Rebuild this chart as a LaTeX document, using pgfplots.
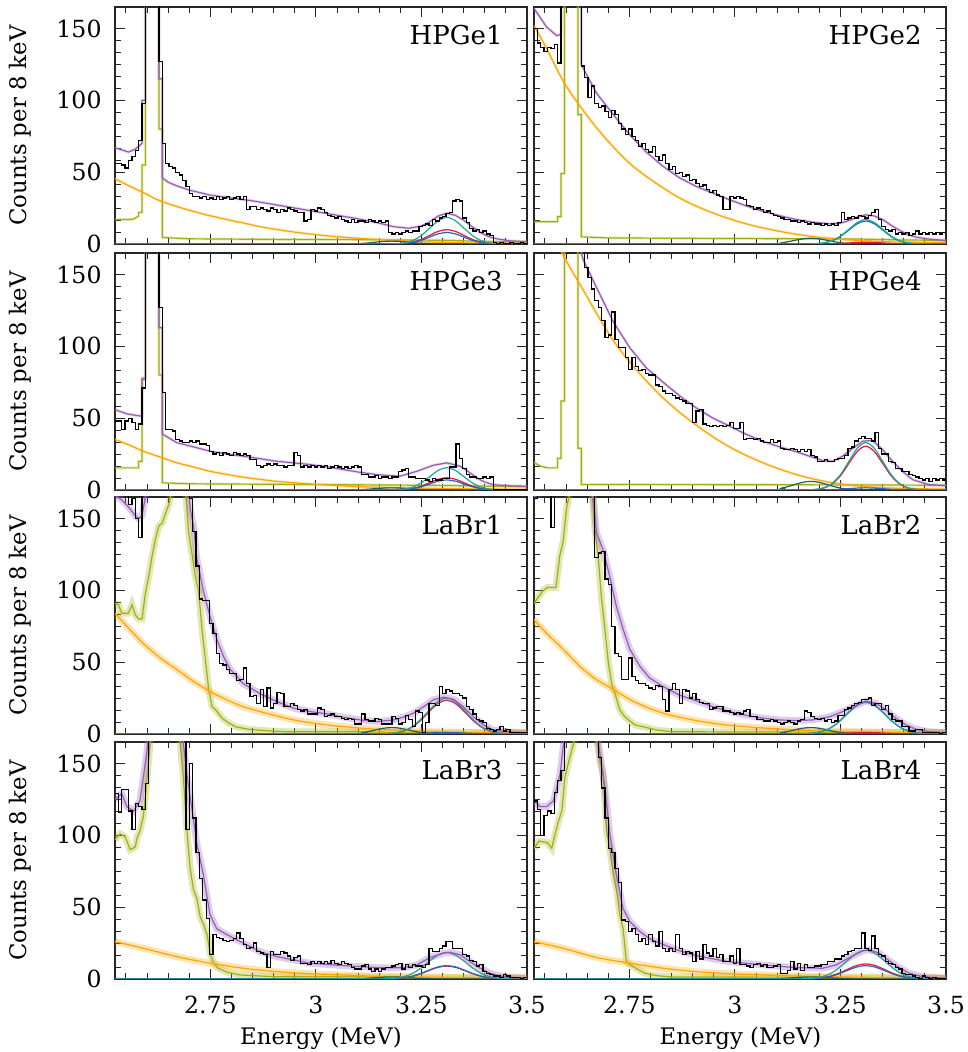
\documentclass[border=0pt]{standalone}
\usepackage{fontspec}
\setmainfont{DejaVu Serif}
\usepackage{pgfplots}
\usepackage{pgfplotstable}
\pgfplotsset{compat=1.18}
\definecolor{cPur}{RGB}{150,92,182}
\definecolor{cOrg}{RGB}{255,165,0}
\definecolor{cOlv}{RGB}{160,175,12}
\definecolor{cTeal}{RGB}{22,170,150}
\definecolor{cRed}{RGB}{235,20,50}
\definecolor{cBlue}{RGB}{35,100,200}
\definecolor{cDk}{RGB}{25,95,105}

\pgfplotstableread{
E h1 h2 h3 h4 l1 l2 l3 l4
2.524 56 150 48 180 170 164 129 124
2.532 56 140 48 178 168 166 116 118
2.540 55 137 42 175 166 166 132 100
2.548 53 134 48 176 175 170 132 114
2.556 58 137 50 172 160 170 117 117
2.564 61 136 47 174 164 144 104 115
2.572 65 139 42 171 150 170 122 130
2.580 72 126 46 175 137 200 120 138
2.588 98 200 71 190 170 230 118 145
2.596 250 500 300 500 200 250 136 200
2.604 600 900 700 900 220 260 180 230
2.612 900 1200 900 1200 240 260 220 250
2.620 400 700 400 600 250 250 250 260
2.628 127 300 127 300 250 240 260 260
2.636 70 124 68 200 250 230 260 250
2.644 56 116 42 155 240 210 250 240
2.652 54 102 42 148 230 190 240 220
2.660 53 110 41 140 220 175 230 200
2.668 50 98 35 132 210 123 210 180
2.676 48 95 34 127 200 126 200 154
2.684 44 96 33 118 190 127 180 133
2.692 40 92 33 106 180 108 104 112
2.700 35 88 34 108 164 104 150 91
2.708 33 93 33 124 141 75 112 88
2.716 33 90 34 105 117 56 88 77
2.724 32 84 32 99 94 54 70 67
2.732 33 80 32 99 93 38 55 41
2.740 31 76 31 92 93 38 42 40
2.748 32 80 27 84 77 53 17 33
2.756 31 75 25 92 70 40 31 35
2.764 33 72 26 86 56 37 29 31
2.772 31 68 24 83 49 35 28 26
2.780 32 70 26 84 48 35 27 28
2.788 33 66 25 81 45 34 26 24
2.796 31 64 24 80 42 32 27 31
2.804 32 68 26 80 42 31 28 26
2.812 33 61 25 73 37 34 32 23
2.820 31 58 24 72 38 33 28 33
2.828 33 62 25 69 46 24 24 21
2.836 24 56 24 67 35 16 21 19
2.844 26 52 21 67 26 31 22 21
2.852 26 54 21 66 27 35 25 19
2.860 24 49 17 64 21 31 19 31
2.868 25 50 16 63 31 21 18 21
2.876 24 47 17 62 19 31 17 17
2.884 23 48 18 60 32 30 8 19
2.892 25 44 17 60 18 25 19 18
2.900 24 45 18 47 21 28 17 12
2.908 22 42 17 55 29 24 17 19
2.916 24 40 17 56 28 22 19 14
2.924 23 41 16 46 19 21 18 24
2.932 25 38 17 45 19 21 16 18
2.940 24 36 17 44 21 17 13 16
2.948 23 37 26 45 20 18 15 21
2.956 22 34 24 44 17 19 16 15
2.964 22 33 16 45 16 19 11 17
2.972 16 24 17 44 17 16 11 12
2.980 17 24 16 45 14 16 10 12
2.988 24 33 17 47 14 15 12 16
2.996 23 32 16 43 14 14 11 11
3.004 25 33 17 43 18 15 12 21
3.012 24 32 16 47 17 14 11 10
3.020 22 31 17 35 12 16 12 10
3.028 20 27 15 36 13 17 11 9
3.036 19 26 16 36 14 12 13 8
3.044 18 24 17 35 12 12 11 10
3.052 19 25 16 36 12 10 10 11
3.060 17 24 15 34 11 10 12 9
3.068 16 22 16 33 10 9 11 10
3.076 15 23 15 33 11 9 10 8
3.084 17 21 16 35 10 10 8 8
3.092 15 20 17 33 7 9 7 9
3.100 16 19 16 34 7 8 7 10
3.108 16 18 11 29 14 7 9 4
3.116 15 17 11 28 10 8 10 4
3.124 17 17 9 28 9 9 7 6
3.132 16 16 9 29 9 8 5 12
3.140 15 16 10 28 11 7 7 7
3.148 16 15 8 27 10 9 5 11
3.156 15 16 9 28 7 10 7 6
3.164 16 15 9 27 7 16 8 10
3.172 8 14 8 28 7 15 8 8
3.180 7 15 9 24 12 12 9 8
3.188 8 14 9 23 11 11 10 9
3.196 7 14 13 20 7 10 11 9
3.204 8 13 14 20 8 11 7 10
3.212 9 14 15 21 13 9 10 10
3.220 8 13 9 20 10 10 8 12
3.228 9 14 9 20 5 8 10 12
3.236 9 13 8 21 16 9 9 14
3.244 12 15 8 22 15 13 9 14
3.252 13 22 8 22 1 13 8 16
3.260 14 17 7 24 8 17 10 17
3.268 13 18 6 29 21 18 21 19
3.276 17 19 8 30 21 20 19 20
3.284 16 18 7 34 20 21 19 21
3.292 18 20 7 36 33 22 21 21
3.300 19 19 8 37 28 24 23 32
3.308 21 18 8 36 31 24 26 21
3.316 22 20 16 36 30 25 26 20
3.324 30 22 16 34 28 20 21 30
3.332 31 24 32 40 28 21 21 21
3.340 30 17 22 29 27 21 21 17
3.348 18 12 15 25 25 17 17 16
3.356 15 10 11 25 19 20 16 12
3.364 11 9 9 20 17 14 13 11
3.372 9 10 9 19 14 10 12 10
3.380 10 7 8 15 10 9 9 8
3.388 8 8 8 15 9 9 10 7
3.396 9 7 9 13 8 5 5 4
3.404 7 8 8 13 4 5 4 3
3.412 6 6 9 11 3 2 3 3
3.420 1 7 0 10 2 2 2 2
3.428 0 9 0 9 3 3 2 1
3.436 1 7 0 8 5 3 1 0
3.444 0 8 0 7 2 1 3 2
3.452 0 7 0 8 3 1 2 1
3.460 1 8 0 6 1 1 1 0
3.468 0 7 0 8 1 1 1 1
3.476 0 8 0 7 1 1 1 0
3.484 1 7 0 8 1 0 0 0
3.492 0 8 0 7 1 1 1 0
3.500 0 8 0 7 1 1 1 0
}\datatab

% ---------- HPGe1 ----------
\pgfplotstableread[row sep=\\]{x y\\ 2.524 17\\2.564 17\\2.572 18\\2.580 19.5\\2.580 22\\2.588 22\\2.588 55\\2.596 55\\2.596 500\\2.628 500\\2.628 80\\2.636 80\\2.636 4.5\\2.70 3.6\\2.90 3.2\\3.10 3.0\\3.30 2.6\\3.40 1.8\\3.50 1.3\\}\oHa
\pgfplotstableread[row sep=\\]{x y\\ 2.524 45.5\\2.55 41.5\\2.575 38\\2.60 34.5\\2.623 31\\2.65 28\\2.694 24\\2.74 20.3\\2.789 17\\2.83 14.5\\2.868 12\\2.92 9.5\\2.97 7.5\\3.02 5.9\\3.065 4.7\\3.12 3.6\\3.168 2.8\\3.22 2\\3.262 1.4\\3.33 0.9\\3.40 0.6\\3.50 0.4\\}\rHa
\pgfplotstableread[row sep=\\]{x y\\ 2.524 67\\2.54 65.5\\2.556 64\\2.572 66\\2.580 68\\2.588 70\\2.588 100\\2.596 100\\2.596 500\\2.628 500\\2.628 115\\2.636 115\\2.636 46\\2.65 43\\2.67 40.5\\2.70 37.5\\2.75 34\\2.80 32\\2.85 30\\2.90 27.5\\2.95 25\\3.00 22.5\\3.05 20\\3.10 17.5\\3.15 14.5\\3.185 12\\3.22 11\\3.25 12.5\\3.27 15.5\\3.29 19.5\\3.31 21.4\\3.33 20\\3.35 16.5\\3.37 12\\3.39 8\\3.41 5\\3.43 3.5\\3.46 2.2\\3.50 1.6\\}\pHa
\pgfplotstableread[row sep=\\]{E T R B K\\ 2.524 0 0 0 0\\3.07 0 0 0 .05\\3.11 0 0 0 .43\\3.13 0 0 0 .92\\3.15 0 0 0 1.51\\3.17 .04 .02 .02 1.94\\3.19 .2 .11 .09 1.94\\3.21 .81 .44 .35 1.51\\3.23 2.5 1.35 1.08 .92\\3.25 6 3.25 2.6 .43\\3.27 11.2 6.07 4.86 .16\\3.29 16.3 8.82 7.06 .05\\3.31 18.5 10 8 .01\\3.33 16.3 8.82 7.06 0\\3.35 11.2 6.07 4.86 0\\3.37 6 3.25 2.6 0\\3.39 2.5 1.35 1.08 0\\3.41 .81 .44 .35 0\\3.43 .2 .11 .09 0\\3.45 .04 .02 .02 0\\3.47 0 0 0 0\\3.5 0 0 0 0\\}\sHa
% ---------- HPGe2 ----------
\pgfplotstableread[row sep=\\]{x y\\ 2.524 15.5\\2.580 15.5\\2.580 19\\2.588 19\\2.588 49\\2.596 49\\2.596 500\\2.628 500\\2.628 90\\2.636 90\\2.636 5\\2.70 4.2\\3.0 3.8\\3.3 3.4\\3.4 2.8\\3.5 2.5\\}\oHb
\pgfplotstableread[row sep=\\]{x y\\ 2.524 152\\2.554 136\\2.594 113\\2.633 96\\2.672 81\\2.712 67.5\\2.751 56\\2.790 47\\2.830 39\\2.869 32\\2.909 26.3\\2.948 21.6\\2.987 17.5\\3.027 14\\3.066 11.2\\3.106 8.8\\3.145 6.8\\3.184 5.2\\3.224 3.9\\3.263 3\\3.303 2.3\\3.381 1.4\\3.44 1.1\\3.5 0.9\\}\rHb
\pgfplotstableread[row sep=\\]{x y\\ 2.524 164\\2.554 151\\2.578 145\\2.588 146\\2.588 400\\2.636 400\\2.636 125\\2.65 117\\2.672 105\\2.712 90\\2.751 76\\2.790 64\\2.830 54\\2.869 46\\2.909 40\\2.948 35.4\\2.987 30.8\\3.027 26.5\\3.066 22.8\\3.106 19.7\\3.145 17\\3.184 15.2\\3.224 14\\3.25 14.5\\3.27 16.3\\3.29 18.8\\3.31 20.3\\3.33 19.5\\3.35 17\\3.37 13\\3.39 9.5\\3.41 6.5\\3.43 4.7\\3.46 3.4\\3.5 2.4\\}\pHb
\pgfplotstableread[row sep=\\]{E T R B K\\ 2.524 0 0 0 0\\3.07 0 0 0 .09\\3.11 0 0 0 .86\\3.13 0 0 0 1.83\\3.15 0 0 0 3.02\\3.17 .03 0 .03 3.88\\3.19 .19 .01 .18 3.88\\3.21 .75 .05 .7 3.02\\3.23 2.3 .16 2.16 1.83\\3.25 5.53 .39 5.2 .86\\3.27 10.3 .73 9.71 .32\\3.29 15 1.06 14.1 .09\\3.31 17 1.2 16 .02\\3.33 15 1.06 14.1 0\\3.35 10.3 .73 9.71 0\\3.37 5.53 .39 5.2 0\\3.39 2.3 .16 2.16 0\\3.41 .75 .05 .7 0\\3.43 .19 .01 .18 0\\3.45 .03 0 .03 0\\3.47 0 0 0 0\\3.5 0 0 0 0\\}\sHb
% ---------- HPGe3 ----------
\pgfplotstableread[row sep=\\]{x y\\ 2.524 15.4\\2.580 15.4\\2.580 20\\2.588 20\\2.588 78\\2.596 78\\2.596 500\\2.628 500\\2.628 80\\2.636 80\\2.636 5\\2.70 4.3\\3.0 3.8\\3.3 3.2\\3.42 2.6\\3.5 2.4\\}\oHc
\pgfplotstableread[row sep=\\]{x y\\ 2.524 35.2\\2.56 31\\2.591 27\\2.63 23\\2.670 19\\2.71 16\\2.749 13\\2.79 10.8\\2.828 8.9\\2.87 7.3\\2.907 6\\2.95 5\\2.986 4.2\\3.03 3.4\\3.065 2.8\\3.144 1.9\\3.22 1.4\\3.302 1\\3.4 0.7\\3.5 0.5\\}\rHc
\pgfplotstableread[row sep=\\]{x y\\ 2.524 56\\2.552 53\\2.583 51.5\\2.588 52\\2.588 77\\2.596 77\\2.596 500\\2.628 500\\2.628 113\\2.636 113\\2.636 39\\2.670 33\\2.71 30\\2.749 27\\2.79 25\\2.828 23.5\\2.87 21.7\\2.907 20\\2.95 18.8\\2.986 17.7\\3.03 16\\3.065 14.2\\3.10 12.5\\3.144 10.7\\3.199 9.6\\3.239 13\\3.278 17.2\\3.31 18.9\\3.342 16.5\\3.36 13\\3.381 8.4\\3.40 5.5\\3.420 3.7\\3.46 2.9\\3.5 2.6\\}\pHc
\pgfplotstableread[row sep=\\]{E T R B K\\ 2.524 0 0 0 0\\3.07 0 0 0 .03\\3.11 0 0 0 .32\\3.13 0 0 0 .69\\3.15 0 0 0 1.13\\3.17 .03 .02 .01 1.45\\3.19 .17 .09 .08 1.45\\3.21 .68 .37 .31 1.13\\3.23 2.09 1.15 .95 .69\\3.25 5.04 2.76 2.28 .32\\3.27 9.41 5.16 4.25 .12\\3.29 13.7 7.5 6.17 .03\\3.31 15.5 8.5 7 .01\\3.33 13.7 7.5 6.17 0\\3.35 9.41 5.16 4.25 0\\3.37 5.04 2.76 2.28 0\\3.39 2.09 1.15 .95 0\\3.41 .68 .37 .31 0\\3.43 .17 .09 .08 0\\3.45 .03 .02 .01 0\\3.47 0 0 0 0\\3.5 0 0 0 0\\}\sHc
% ---------- HPGe4 ----------
\pgfplotstableread[row sep=\\]{x y\\ 2.524 19\\2.54 16.5\\2.556 15.4\\2.580 15.4\\2.580 22\\2.588 22\\2.588 62\\2.596 62\\2.596 500\\2.628 500\\2.628 29\\2.636 29\\2.636 3.8\\3.0 3.7\\3.3 3.5\\3.5 3.3\\}\oHd
\pgfplotstableread[row sep=\\]{x y\\ 2.524 215\\2.56 188\\2.589 166\\2.617 151\\2.641 139\\2.672 123\\2.712 104\\2.751 89\\2.790 76\\2.830 64\\2.869 54\\2.909 45\\2.948 37\\2.987 30\\3.027 24\\3.066 19\\3.106 14.5\\3.145 10.8\\3.184 7.8\\3.224 5.4\\3.263 3.7\\3.303 2.5\\3.35 1.6\\3.40 1.1\\3.5 0.6\\}\rHd
\pgfplotstableread[row sep=\\]{x y\\ 2.524 240\\2.58 215\\2.588 215\\2.588 400\\2.636 400\\2.636 165\\2.641 160\\2.672 141\\2.712 117\\2.751 99\\2.790 85\\2.830 75\\2.869 65.5\\2.909 57\\2.948 50\\2.987 44.5\\3.027 38.7\\3.066 34\\3.106 30\\3.145 26.6\\3.184 22.8\\3.208 20.5\\3.232 20\\3.255 23.5\\3.279 29\\3.303 34\\3.326 34.5\\3.350 28\\3.373 20\\3.397 13\\3.421 7.2\\3.460 3.7\\3.5 3\\}\pHd
\pgfplotstableread[row sep=\\]{E T R B K\\ 2.524 0 0 0 0\\3.07 0 0 0 .14\\3.11 0 0 0 1.3\\3.13 0 0 0 2.75\\3.15 0 0 0 4.53\\3.17 .07 .06 0 5.81\\3.19 .36 .34 .02 5.81\\3.21 1.45 1.34 .07 4.53\\3.23 4.46 4.12 .2 2.75\\3.25 10.7 9.91 .49 1.3\\3.27 20 18.5 .91 .48\\3.29 29.1 26.9 1.32 .14\\3.31 33 30.5 1.5 .03\\3.33 29.1 26.9 1.32 0\\3.35 20 18.5 .91 0\\3.37 10.7 9.91 .49 0\\3.39 4.46 4.12 .2 0\\3.41 1.45 1.34 .07 0\\3.43 .36 .34 .02 0\\3.45 .07 .06 0 0\\3.47 0 0 0 0\\3.5 0 0 0 0\\}\sHd
% ---------- LaBr1 ----------
\pgfplotstableread[row sep=\\]{x y\\ 2.524 91\\2.532 90\\2.540 84\\2.556 84\\2.564 90\\2.572 83\\2.580 80\\2.588 80\\2.596 98\\2.604 110\\2.612 124\\2.620 136\\2.628 145\\2.636 147\\2.644 154\\2.652 160\\2.660 172\\2.690 175\\2.698 141\\2.706 126\\2.714 110\\2.722 100\\2.730 73\\2.738 52\\2.746 31\\2.754 19\\2.762 17\\2.778 11\\2.794 7.5\\2.81 5\\2.84 3.3\\2.88 2.3\\2.93 1.6\\3.1 1.6\\3.2 0.9\\3.5 0.7\\}\oLa
\pgfplotstableread[row sep=\\]{x y\\ 2.524 84\\2.552 75\\2.591 63\\2.631 53\\2.670 45\\2.710 36.6\\2.749 29.6\\2.789 23.8\\2.828 19\\2.868 15.6\\2.907 12.6\\2.947 9.8\\2.986 7.9\\3.026 6.3\\3.065 5.1\\3.144 3.3\\3.223 2.3\\3.302 1.4\\3.40 1\\3.5 0.7\\}\rLa
\pgfplotstableread[row sep=\\]{x y\\ 2.524 166\\2.540 163\\2.556 158\\2.572 152\\2.580 150\\2.588 152\\2.596 165\\2.604 185\\2.694 190\\2.702 157\\2.710 145\\2.718 122\\2.725 112\\2.733 100\\2.741 91\\2.749 82\\2.765 66\\2.781 54\\2.797 45\\2.828 35\\2.868 28\\2.907 22.6\\2.947 18\\2.986 15.6\\3.026 14\\3.065 11.7\\3.105 9.8\\3.144 8.6\\3.184 9.8\\3.207 11.7\\3.231 14.5\\3.255 19\\3.278 23.8\\3.302 25.6\\3.326 24.2\\3.349 19\\3.373 12\\3.397 6.3\\3.420 2.8\\3.460 1.4\\3.5 0.9\\}\pLa
\pgfplotstableread[row sep=\\]{E T R B K\\ 2.524 0 0 0 0\\3.07 0 0 0 .1\\3.11 0 0 0 .97\\3.13 0 0 0 2.06\\3.15 .05 .05 0 3.4\\3.17 .25 .24 .01 4.36\\3.19 .83 .78 .03 4.36\\3.21 2.35 2.21 .09 3.4\\3.23 5.5 5.17 .22 2.06\\3.25 10.7 10 .43 .97\\3.27 17.1 16.1 .69 .36\\3.29 22.8 21.4 .91 .1\\3.31 25 23.5 1 .02\\3.33 22.8 21.4 .91 0\\3.35 17.1 16.1 .69 0\\3.37 10.7 10 .43 0\\3.39 5.5 5.17 .22 0\\3.41 2.35 2.21 .09 0\\3.43 .83 .78 .03 0\\3.45 .25 .24 .01 0\\3.47 .05 .05 0 0\\3.5 0 0 0 0\\}\sLa
% ---------- LaBr2 ----------
\pgfplotstableread[row sep=\\]{x y\\ 2.524 91\\2.536 96\\2.546 100\\2.556 102\\2.576 102\\2.585 124\\2.593 134\\2.601 157\\2.609 168\\2.66 175\\2.668 143\\2.676 124\\2.684 94\\2.692 73\\2.700 50\\2.708 35\\2.716 28\\2.727 17\\2.739 12\\2.747 10\\2.763 6.3\\2.787 4.7\\2.815 2.8\\2.85 1.6\\3.0 1.4\\3.3 1.2\\3.5 1\\}\oLb
\pgfplotstableread[row sep=\\]{x y\\ 2.524 79.7\\2.554 70\\2.593 59\\2.633 47\\2.672 37.8\\2.712 31\\2.751 24\\2.790 18.7\\2.830 14.5\\2.869 11.7\\2.909 9.3\\2.948 7.5\\2.987 6\\3.066 4.2\\3.145 2.8\\3.224 2\\3.303 1.4\\3.4 1\\3.5 0.7\\}\rLb
\pgfplotstableread[row sep=\\]{x y\\ 2.524 165\\2.54 168\\2.55 178\\2.66 180\\2.672 140\\2.688 128\\2.704 109\\2.719 89\\2.735 73\\2.751 59\\2.775 47\\2.798 39\\2.830 33\\2.869 27\\2.909 23\\2.948 19\\2.987 15.6\\3.027 13\\3.066 11\\3.106 9.8\\3.145 9.3\\3.184 9.8\\3.224 12\\3.255 15.6\\3.287 20\\3.310 23\\3.334 21.4\\3.358 16.8\\3.381 11\\3.405 6.3\\3.429 3.3\\3.460 1.6\\3.5 0.9\\}\pLb
\pgfplotstableread[row sep=\\]{E T R B K\\ 2.524 0 0 0 0\\3.07 0 0 0 .1\\3.11 0 0 0 .97\\3.13 0 0 0 2.06\\3.15 .05 0 .04 3.4\\3.17 .23 .01 .22 4.36\\3.19 .74 .03 .73 4.36\\3.21 2.12 .09 2.07 3.4\\3.23 4.95 .22 4.84 2.06\\3.25 9.61 .43 9.39 .97\\3.27 15.4 .69 15.1 .36\\3.29 20.5 .91 20 .1\\3.31 22.5 1 22 .02\\3.33 20.5 .91 20 0\\3.35 15.4 .69 15.1 0\\3.37 9.61 .43 9.39 0\\3.39 4.95 .22 4.84 0\\3.41 2.12 .09 2.07 0\\3.43 .74 .03 .73 0\\3.45 .23 .01 .22 0\\3.47 .05 0 .04 0\\3.5 0 0 0 0\\}\sLb
% ---------- LaBr3 ----------
\pgfplotstableread[row sep=\\]{x y\\ 2.524 97\\2.536 101\\2.548 99\\2.552 96\\2.56 90\\2.572 92\\2.576 98\\2.583 103\\2.591 113\\2.599 136\\2.607 164\\2.615 175\\2.675 175\\2.686 140\\2.694 105\\2.702 77\\2.710 62\\2.718 56\\2.726 43\\2.734 38\\2.742 31\\2.750 17\\2.758 11\\2.768 7.5\\2.79 4.7\\2.82 2.8\\2.9 1.6\\3.1 1.6\\3.2 0.9\\3.5 0.7\\}\oLc
\pgfplotstableread[row sep=\\]{x y\\ 2.524 26\\2.591 21.4\\2.670 15.6\\2.749 11\\2.828 7.5\\2.907 5.1\\2.986 3.7\\3.065 2.8\\3.144 1.9\\3.223 1.5\\3.302 1.2\\3.4 0.9\\3.5 0.7\\}\rLc
\pgfplotstableread[row sep=\\]{x y\\ 2.524 125\\2.540 129\\2.552 120\\2.568 117\\2.583 124\\2.599 157\\2.607 180\\2.68 180\\2.694 143\\2.706 119\\2.718 94\\2.733 73\\2.749 45\\2.765 35\\2.788 31\\2.828 25\\2.868 19\\2.907 15.6\\2.947 13.3\\2.986 11\\3.065 9.3\\3.144 7.9\\3.207 7.9\\3.239 9.8\\3.270 14.9\\3.302 18\\3.318 18.6\\3.342 16.8\\3.365 12\\3.389 7.5\\3.413 4\\3.444 1.6\\3.5 0.5\\}\pLc
\pgfplotstableread[row sep=\\]{E T R B K\\ 2.524 0 0 0 0\\3.07 0 0 0 .03\\3.11 0 0 0 .32\\3.13 0 0 0 .69\\3.15 .04 .02 .02 1.13\\3.17 .19 .09 .09 1.45\\3.19 .61 .3 .31 1.45\\3.21 1.74 .85 .87 1.13\\3.23 4.07 1.98 2.05 .69\\3.25 7.9 3.84 3.97 .32\\3.27 12.7 6.17 6.37 .12\\3.29 16.8 8.19 8.46 .03\\3.31 18.5 9 9.3 .01\\3.33 16.8 8.19 8.46 0\\3.35 12.7 6.17 6.37 0\\3.37 7.9 3.84 3.97 0\\3.39 4.07 1.98 2.05 0\\3.41 1.74 .85 .87 0\\3.43 .61 .3 .31 0\\3.45 .19 .09 .09 0\\3.47 .04 .02 .02 0\\3.5 0 0 0 0\\}\sLc
% ---------- LaBr4 ----------
\pgfplotstableread[row sep=\\]{x y\\ 2.524 91\\2.536 96\\2.556 95\\2.566 91\\2.574 101\\2.582 110\\2.590 117\\2.597 140\\2.605 150\\2.615 161\\2.625 172\\2.670 172\\2.680 152\\2.688 143\\2.696 103\\2.704 90\\2.712 73\\2.720 61\\2.727 45\\2.735 35\\2.743 12\\2.751 10\\2.765 7.5\\2.787 4\\2.815 2.3\\2.85 1.4\\3.1 1.3\\3.3 0.8\\3.5 0.5\\}\oLd
\pgfplotstableread[row sep=\\]{x y\\ 2.524 26\\2.593 21.4\\2.672 15\\2.751 11\\2.830 7.5\\2.909 5.1\\2.987 3.7\\3.066 2.8\\3.145 2.1\\3.303 1.2\\3.5 0.7\\}\rLd
\pgfplotstableread[row sep=\\]{x y\\ 2.524 124\\2.538 120\\2.554 120\\2.570 124\\2.586 143\\2.594 164\\2.60 180\\2.67 180\\2.680 157\\2.692 133\\2.704 100\\2.719 73\\2.735 49\\2.751 40\\2.775 33\\2.798 28\\2.830 24\\2.869 19.6\\2.909 16.3\\2.948 14\\2.987 12\\3.066 9.8\\3.145 7.9\\3.208 7.5\\3.240 9.8\\3.271 14.9\\3.303 19.6\\3.318 20.3\\3.342 18\\3.366 12.6\\3.389 7.9\\3.413 4\\3.444 1.6\\3.5 0.5\\}\pLd
\pgfplotstableread[row sep=\\]{E T R B K\\ 2.524 0 0 0 0\\3.07 0 0 0 .03\\3.11 0 0 0 .32\\3.13 0 0 0 .69\\3.15 .04 .02 .02 1.13\\3.17 .2 .11 .09 1.45\\3.19 .66 .35 .31 1.45\\3.21 1.88 .99 .87 1.13\\3.23 4.4 2.31 2.05 .69\\3.25 8.54 4.48 3.97 .32\\3.27 13.7 7.19 6.37 .12\\3.29 18.2 9.56 8.46 .03\\3.31 20 10.5 9.3 .01\\3.33 18.2 9.56 8.46 0\\3.35 13.7 7.19 6.37 0\\3.37 8.54 4.48 3.97 0\\3.39 4.4 2.31 2.05 0\\3.41 1.88 .99 .87 0\\3.43 .66 .35 .31 0\\3.45 .2 .11 .09 0\\3.47 .04 .02 .02 0\\3.5 0 0 0 0\\}\sLd

\pgfplotsset{
  panel/.style={
    scale only axis, width=206pt, height=118.5pt,
    xmin=2.524, xmax=3.5, ymin=0, ymax=165,
    xtick={2.75,3,3.25,3.5},
    minor xtick={2.55,2.6,2.65,2.7,2.8,2.85,2.9,2.95,3.05,3.1,3.15,3.2,3.3,3.35,3.4,3.45},
    ytick={0,50,100,150}, minor y tick num=5,
    tick align=inside, tick pos=both,
    major tick length=5pt, minor tick length=3pt,
    every tick/.style={black!85, line width=0.5pt},
    axis line style={black!85, line width=0.6pt},
    tick label style={font=\fontsize{11.8}{13}\selectfont},
    /pgf/number format/assume math mode=true,
    xticklabel style={yshift=-5.2pt},
    yticklabel style={xshift=-3.2pt},
    anchor=south west,
  },
  dat/.style={black, line width=0.65pt, const plot mark left, mark=none},
  fitl/.style={line width=0.6pt, mark=none},
  bandH/.style={line width=1.5pt, opacity=0.22, mark=none},
  bandL/.style={line width=3.4pt, opacity=0.3, mark=none},
}
\tikzset{plab/.style={anchor=base east, inner sep=0pt, font=\fontsize{13}{15}\selectfont},
  ylab/.style={rotate=90, font=\fontsize{11.4}{13}\selectfont}}

\newcommand\fitplots[6]{%
  \addplot[cOlv,#6] table{#1};
  \addplot[cOlv,fitl] table{#1};
  \addplot[cOrg,#6,smooth] table{#2};
  \addplot[cOrg,fitl,smooth] table{#2};
  \addplot[cDk,fitl,smooth] table[x=E,y=K]{#4};
  \addplot[cRed,fitl,smooth] table[x=E,y=R]{#4};
  \addplot[cBlue,fitl,smooth] table[x=E,y=B]{#4};
  \addplot[cTeal,fitl,smooth] table[x=E,y=T]{#4};
  \addplot[cPur,#6] table{#3};
  \addplot[cPur,fitl] table{#3};
  \addplot[dat] table[x=E,y=#5]{\datatab};
}

\begin{document}
\begin{tikzpicture}
\path[use as bounding box] (0,0) rectangle (483.5pt,526pt);

\begin{axis}[panel, at={(57.5pt,404pt)}, xticklabels={}]
\fitplots{\oHa}{\rHa}{\pHa}{\sHa}{h1}{bandH}
\node[plab] at (axis cs:3.443,139) {HPGe1};
\end{axis}
\begin{axis}[panel, at={(267pt,404pt)}, xticklabels={}, yticklabels={}]
\fitplots{\oHb}{\rHb}{\pHb}{\sHb}{h2}{bandH}
\node[plab] at (axis cs:3.443,139) {HPGe2};
\end{axis}

\begin{axis}[panel, at={(57.5pt,281pt)}, xticklabels={}]
\fitplots{\oHc}{\rHc}{\pHc}{\sHc}{h3}{bandH}
\node[plab] at (axis cs:3.443,139) {HPGe3};
\end{axis}
\begin{axis}[panel, at={(267pt,281pt)}, xticklabels={}, yticklabels={}]
\fitplots{\oHd}{\rHd}{\pHd}{\sHd}{h4}{bandH}
\node[plab] at (axis cs:3.443,139) {HPGe4};
\end{axis}

\begin{axis}[panel, at={(57.5pt,159pt)}, xticklabels={}]
\fitplots{\oLa}{\rLa}{\pLa}{\sLa}{l1}{bandL}
\node[plab] at (axis cs:3.443,139) {LaBr1};
\end{axis}
\begin{axis}[panel, at={(267pt,159pt)}, xticklabels={}, yticklabels={}]
\fitplots{\oLb}{\rLb}{\pLb}{\sLb}{l2}{bandL}
\node[plab] at (axis cs:3.443,139) {LaBr2};
\end{axis}

\begin{axis}[panel, at={(57.5pt,36.5pt)}]
\fitplots{\oLc}{\rLc}{\pLc}{\sLc}{l3}{bandL}
\node[plab] at (axis cs:3.443,139) {LaBr3};
\end{axis}
\begin{axis}[panel, at={(267pt,36.5pt)}, yticklabels={}]
\fitplots{\oLd}{\rLd}{\pLd}{\sLd}{l4}{bandL}
\node[plab] at (axis cs:3.443,139) {LaBr4};
\end{axis}

\node[ylab] at (10pt,463.25pt) {Counts per 8 keV};
\node[ylab] at (10pt,340.25pt) {Counts per 8 keV};
\node[ylab] at (10pt,218.25pt) {Counts per 8 keV};
\node[ylab] at (10pt,95.75pt) {Counts per 8 keV};
\node[anchor=base, font=\fontsize{11.4}{13}\selectfont] at (160.5pt,4pt) {Energy (MeV)};
\node[anchor=base, font=\fontsize{11.4}{13}\selectfont] at (370.25pt,4pt) {Energy (MeV)};
\end{tikzpicture}
\end{document}
